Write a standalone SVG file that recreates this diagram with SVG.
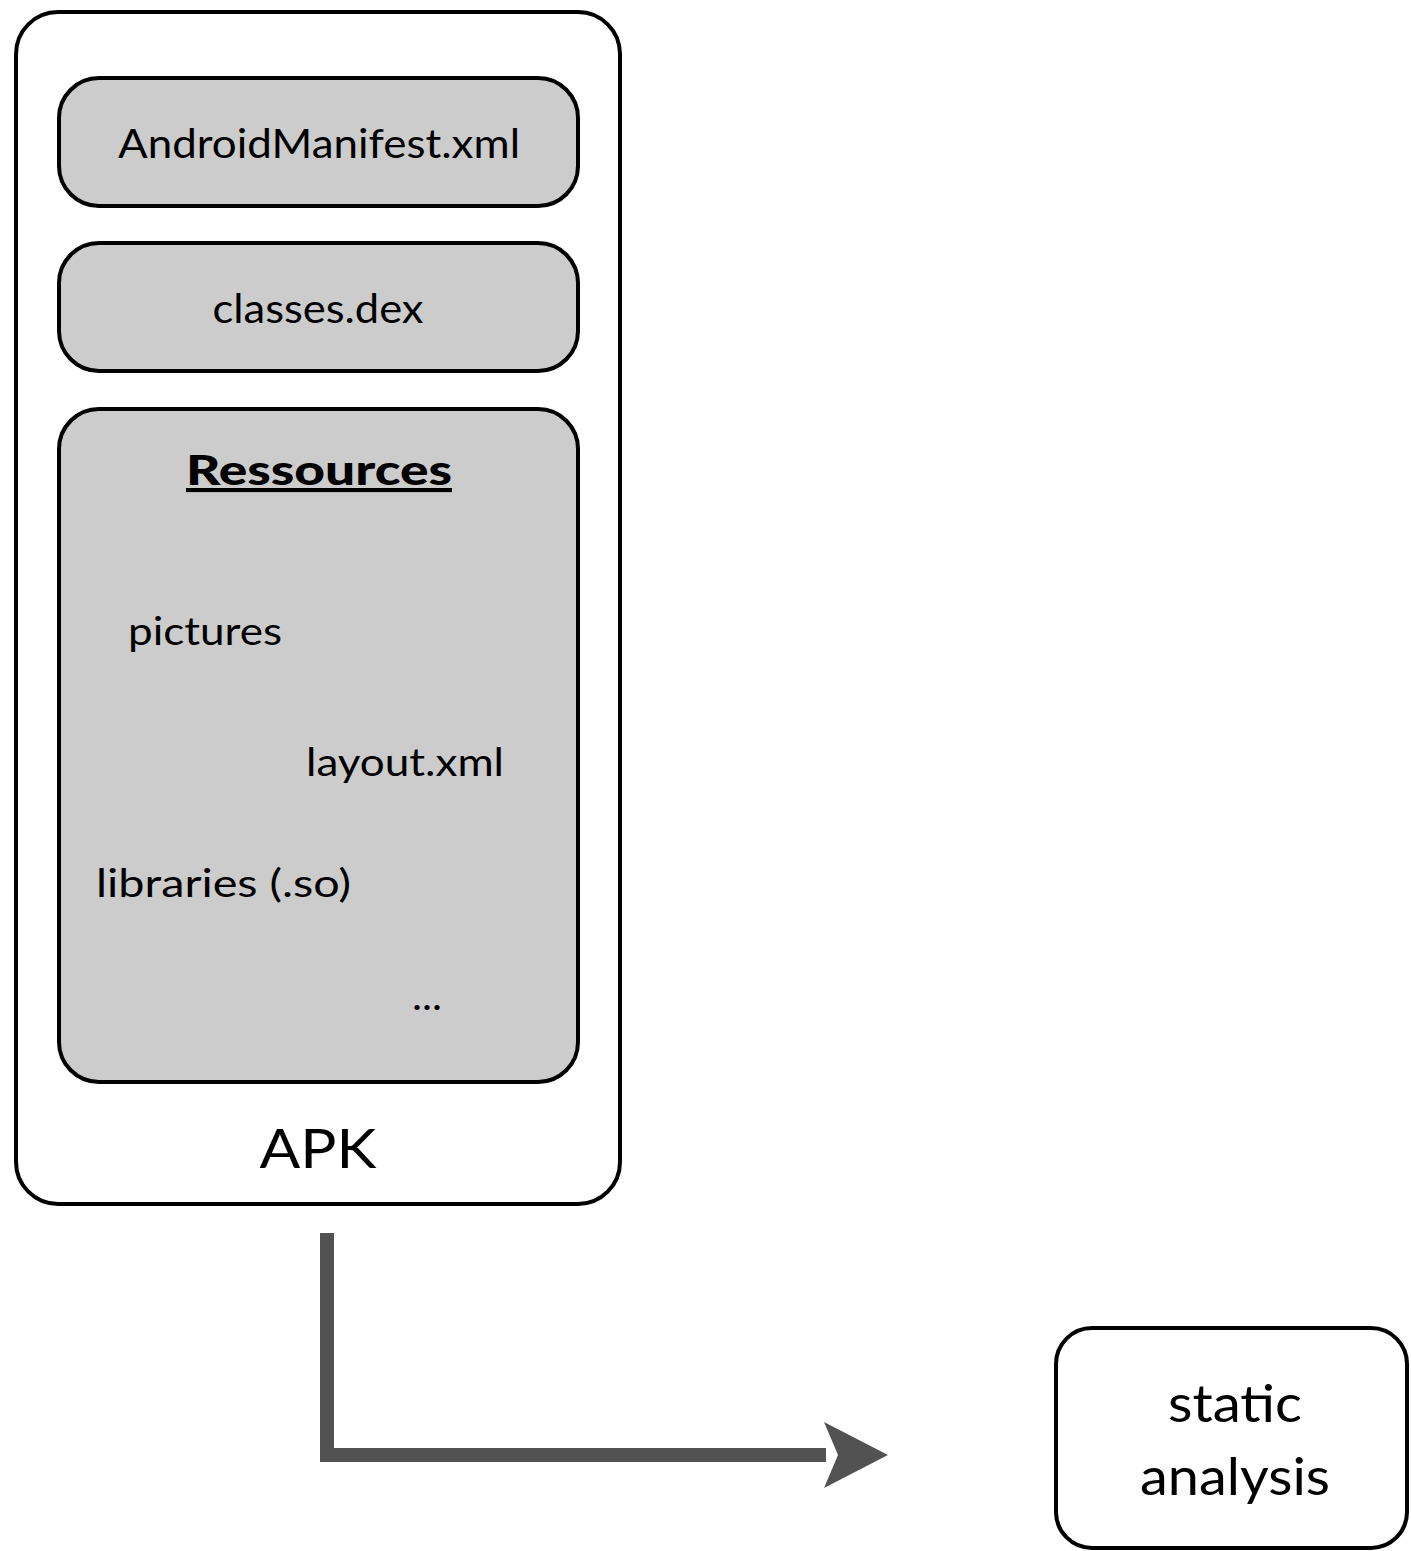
<svg xmlns="http://www.w3.org/2000/svg" width="1411" height="1551" viewBox="0 0 1411 1551">
  <style>
    .box { stroke: #000; stroke-width: 4; }
    .outer { fill: #fff; }
    .part { fill: #cccccc; }
    .t { font-family: Lato, "Open Sans", "Liberation Sans", sans-serif; fill: #000; }
    .m { text-anchor: middle; }
    .conn { fill: none; stroke: #525252; stroke-width: 14; }
  </style>
  <defs>
    <marker id="head" markerUnits="userSpaceOnUse" markerWidth="64" markerHeight="66" refX="2" refY="33" orient="auto">
      <path d="M0,0 L64,33 L0,66 L14,33 Z" fill="#525252"/>
    </marker>
  </defs>

  <g id="apk">
    <rect class="box outer" x="16" y="12" width="604" height="1192" rx="42"/>
    <text class="t m" x="318" y="1168" font-size="54" textLength="117" lengthAdjust="spacingAndGlyphs">APK</text>
  </g>

  <g id="manifest">
    <rect class="box part" x="59" y="78" width="519" height="128" rx="40"/>
    <text class="t m" x="319" y="158" font-size="41" textLength="402" lengthAdjust="spacingAndGlyphs">AndroidManifest.xml</text>
  </g>

  <g id="classes">
    <rect class="box part" x="59" y="243" width="519" height="128" rx="40"/>
    <text class="t m" x="318" y="323" font-size="41" textLength="211" lengthAdjust="spacingAndGlyphs">classes.dex</text>
  </g>

  <g id="ressources">
    <rect class="box part" x="59" y="409" width="519" height="673" rx="40"/>
    <text class="t m" x="319" y="485" font-size="41" font-weight="900" text-decoration="underline" textLength="266" lengthAdjust="spacingAndGlyphs">Ressources</text>
    <text class="t" x="128" y="645" font-size="39" textLength="154" lengthAdjust="spacingAndGlyphs">pictures</text>
    <text class="t" x="306" y="776" font-size="39" textLength="198" lengthAdjust="spacingAndGlyphs">layout.xml</text>
    <text class="t" x="96" y="897" font-size="39" textLength="255" lengthAdjust="spacingAndGlyphs">libraries (.so)</text>
    <text class="t" x="412" y="1010" font-size="39" textLength="30" lengthAdjust="spacingAndGlyphs">...</text>
  </g>

  <g id="static-analysis">
    <rect class="box outer" x="1056" y="1328" width="351" height="220" rx="36"/>
    <text class="t m" x="1235" y="1422" font-size="53" textLength="134" lengthAdjust="spacingAndGlyphs">static</text>
    <text class="t m" x="1235" y="1495" font-size="53" textLength="190" lengthAdjust="spacingAndGlyphs">analysis</text>
  </g>

  <g id="connectors">
    <path class="conn" d="M327,1233 L327,1455 L826,1455" marker-end="url(#head)"/>
  </g>
</svg>
